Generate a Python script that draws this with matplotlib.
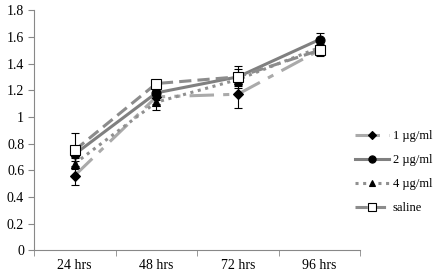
import numpy as np
import matplotlib.pyplot as plt

plt.rcParams['font.family'] = ['Liberation Serif', 'DejaVu Serif']

times = ['24 hrs', '48 hrs', '72 hrs', '96 hrs']
labels = ['1 \u00b5g/ml', '2 \u00b5g/ml', '4 \u00b5g/ml', 'saline']
d1 = [0.56, 1.15, 1.17, 1.50]
d2 = [0.72, 1.18, 1.30, 1.58]
d4 = [0.65, 1.11, 1.28, 1.52]
sal = [0.75, 1.25, 1.30, 1.50]
e1 = [0.07, 0.05, 0.10, 0.03]
e2 = [0.05, 0.05, 0.06, 0.05]
e4 = [0.04, 0.06, 0.05, 0.03]
esal = [0.13, 0.03, 0.08, 0.04]

fig = plt.figure(figsize=(4.4, 2.75), dpi=100)
ax = fig.add_axes([0.077, 0.09, 0.742, 0.873])

x = np.arange(len(times))
styles = [
    (d1, e1, 'D', '#aaaaaa', (0, (8, 3, 2, 3)), 'black', 'black', 5.5),
    (d2, e2, 'o', '#808080', '-', 'black', 'black', 6.5),
    (d4, e4, '^', '#909090', (0, (1, 1.5)), 'black', 'black', 6),
    (sal, esal, 's', '#8c8c8c', (0, (4, 2)), 'white', 'black', 6.5),
]
handles = []
for (vals, err, mk, col, ls, fc, ec, ms), lab in zip(styles, labels):
    ax.errorbar(x, vals, yerr=err, fmt='none', ecolor='black', elinewidth=0.8,
                capsize=3, capthick=0.8, zorder=2)
    h, = ax.plot(x, vals, color=col, linestyle=ls, linewidth=2.2, marker=mk,
                 markersize=ms, markerfacecolor=fc, markeredgecolor=ec,
                 markeredgewidth=0.8, label=lab, zorder=3)
    handles.append(h)

ax.set_xlim(-0.5, 3.5)
ax.set_ylim(0, 1.8)
ax.set_yticks(np.arange(0, 1.81, 0.2))
ax.set_yticklabels(['0', '0.2', '0.4', '0.6', '0.8', '1', '1.2', '1.4', '1.6', '1.8'])
ax.set_xticks(x)
ax.set_xticklabels(times)
ax.set_xticks(np.arange(-0.5, 3.6, 1), minor=True)
ax.tick_params(axis='x', which='major', length=0, labelsize=10, pad=6)
ax.tick_params(axis='x', which='minor', length=4, color='#888888', direction='out')
ax.tick_params(axis='y', length=4, color='#888888', labelsize=10, pad=3)
for s in ['top', 'right']:
    ax.spines[s].set_visible(False)
for s in ['left', 'bottom']:
    ax.spines[s].set_color('#888888')
    ax.spines[s].set_linewidth(0.8)

fig.legend(handles=handles, labels=labels, loc='upper left',
           bbox_to_anchor=(349 / 440, 1 - 124 / 275), frameon=False,
           fontsize=9, handlelength=2.7, handletextpad=0.3, labelspacing=0.95,
           borderpad=0, markerscale=0.8)

fig.savefig('out.png', dpi=100)
